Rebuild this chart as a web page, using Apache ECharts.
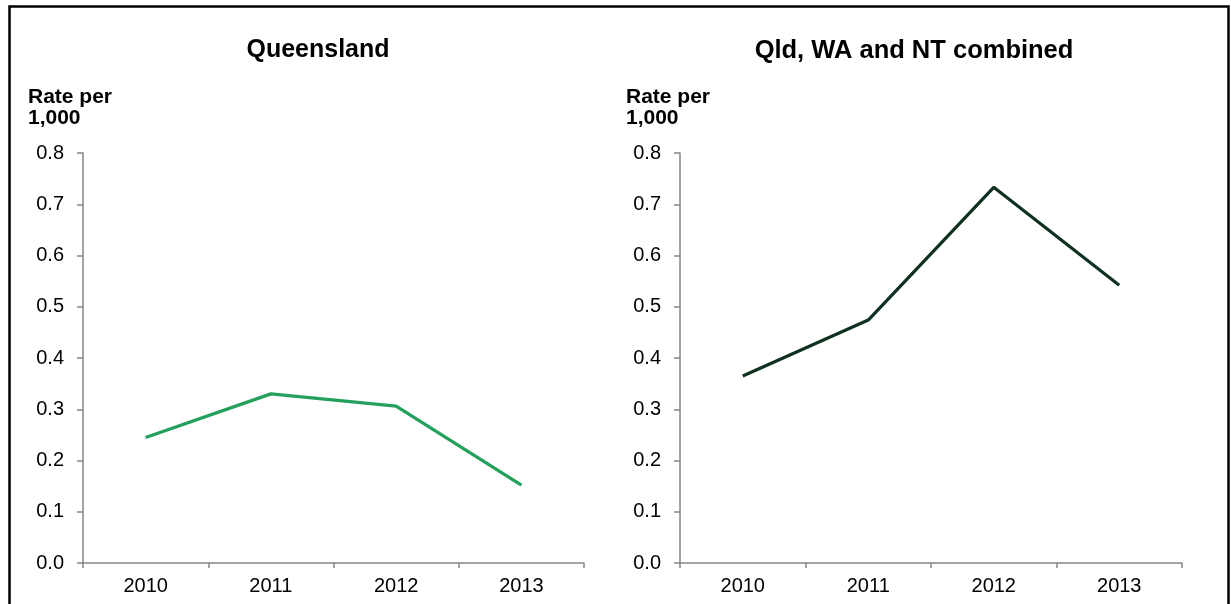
<!DOCTYPE html>
<html>
<head>
<meta charset="utf-8">
<script src="https://cdn.jsdelivr.net/npm/echarts@6/dist/echarts.min.js"></script>
<style>
html,body{margin:0;padding:0;background:#fff;}
#chart{width:1231px;height:604px;}
</style>
</head>
<body>
<div id="chart"></div>
<script>
const categories = ['2010', '2011', '2012', '2013'];
const queenslandValues = [0.245, 0.330, 0.306, 0.152];
const combinedValues = [0.365, 0.474, 0.733, 0.542];
const panelTitles = ['Queensland', 'Qld, WA and NT combined'];
const yAxisTitle = 'Rate per\n1,000';
const yMin = 0, yMax = 0.8, yStep = 0.1;

const FONT = '"Liberation Sans", Arial, sans-serif';
const axisGrey = '#868686';

function xAxisCfg(gridIndex) {
  return {
    type: 'category', gridIndex: gridIndex, data: categories, boundaryGap: true,
    axisLine: {lineStyle: {color: axisGrey, width: 1.5}},
    axisTick: {show: true, length: 5, lineStyle: {color: axisGrey, width: 1.5}},
    axisLabel: {color: '#000', fontFamily: FONT, fontSize: 20, margin: 13},
    splitLine: {show: false}
  };
}
function yAxisCfg(gridIndex) {
  return {
    type: 'value', gridIndex: gridIndex, min: yMin, max: yMax, interval: yStep,
    axisLine: {show: true, lineStyle: {color: axisGrey, width: 1.5}},
    axisTick: {show: true, length: 6, lineStyle: {color: axisGrey, width: 1.5}},
    axisLabel: {color: '#000', fontFamily: FONT, fontSize: 20, margin: 19,
      formatter: v => v.toFixed(1)},
    splitLine: {show: false}
  };
}

const chart = echarts.init(document.getElementById('chart'), null, {renderer: 'canvas'});
chart.setOption({
  backgroundColor: '#fff',
  animation: false,
  title: [
    {text: panelTitles[0], left: 313, top: 33, textAlign: 'center',
      textStyle: {fontFamily: FONT, fontSize: 25, fontWeight: 'bold', color: '#000'}},
    {text: panelTitles[1], left: 909, top: 33, textAlign: 'center',
      textStyle: {fontFamily: FONT, fontSize: 25.5, fontWeight: 'bold', color: '#000'}},
    {text: yAxisTitle, left: 23, top: 82,
      textStyle: {fontFamily: FONT, fontSize: 21, fontWeight: 'bold', color: '#000', lineHeight: 21}},
    {text: yAxisTitle, left: 621, top: 82,
      textStyle: {fontFamily: FONT, fontSize: 21, fontWeight: 'bold', color: '#000', lineHeight: 21}}
  ],
  graphic: [
    {type: 'rect', shape: {x: 9.5, y: 6.5, width: 1219, height: 640},
      style: {fill: 'none', stroke: '#000', lineWidth: 2.5}, silent: true, z: 100}
  ],
  grid: [
    {left: 83, top: 153, width: 501, height: 410},
    {left: 680, top: 153, width: 502, height: 410}
  ],
  xAxis: [xAxisCfg(0), xAxisCfg(1)],
  yAxis: [yAxisCfg(0), yAxisCfg(1)],
  series: [
    {type: 'line', xAxisIndex: 0, yAxisIndex: 0, data: queenslandValues,
      showSymbol: false, symbol: 'none', lineStyle: {color: '#23A05C', width: 3.2}},
    {type: 'line', xAxisIndex: 1, yAxisIndex: 1, data: combinedValues,
      showSymbol: false, symbol: 'none', lineStyle: {color: '#0E3120', width: 3.2}}
  ]
});
</script>
</body>
</html>
